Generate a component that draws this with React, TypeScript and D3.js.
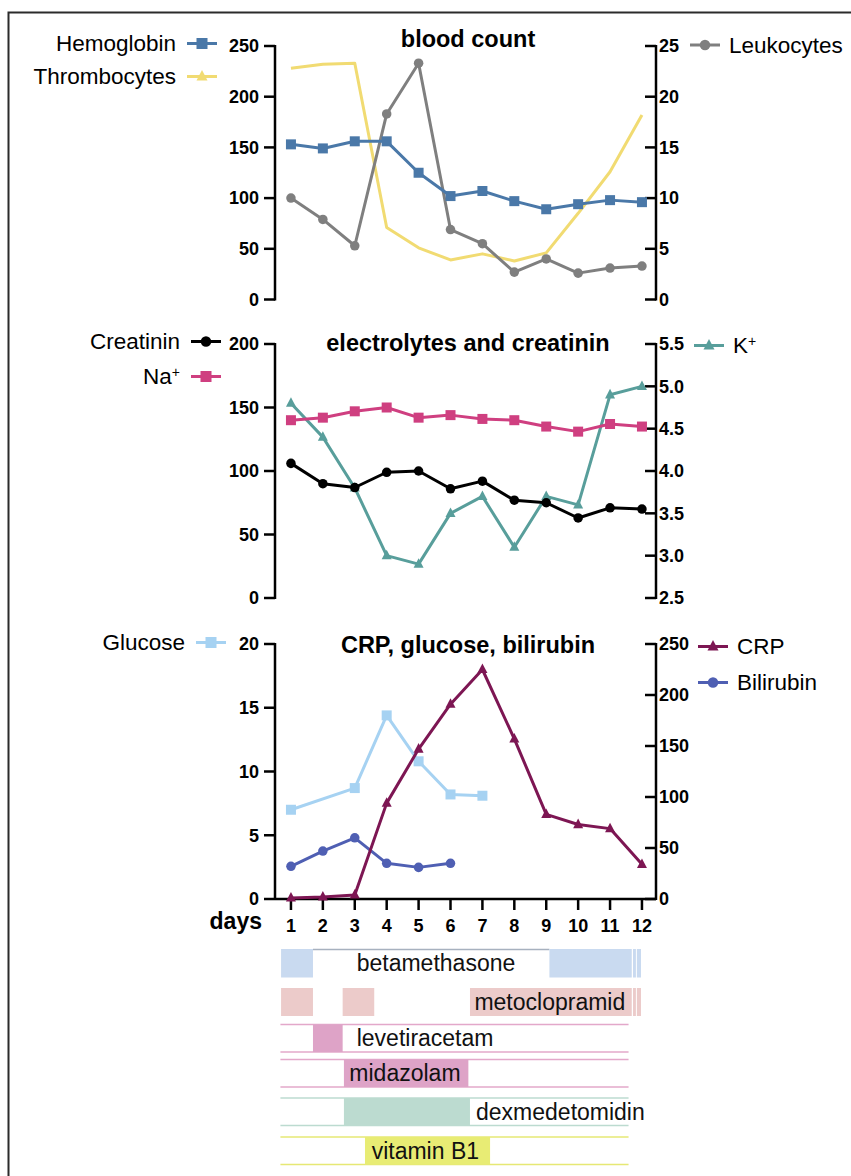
import React from 'react';
import * as d3 from 'd3';

// lab values per day (null = not measured)
const days = [1, 2, 3, 4, 5, 6, 7, 8, 9, 10, 11, 12];
const hemoglobin = [153, 149, 156, 156, 125, 102, 107, 97, 89, 94, 98, 96];
const thrombocytes = [228, 232, 233, 71, 51, 39, 45, 38, 46, 85, 126, 182];
const leukocytes = [10.0, 7.9, 5.3, 18.3, 23.3, 6.9, 5.5, 2.7, 4.0, 2.6, 3.1, 3.3];
const creatinin = [106, 90, 87, 99, 100, 86, 92, 77, 75, 63, 71, 70];
const sodium = [140, 142, 147, 150, 142, 144, 141, 140, 135, 131, 137, 135];
const potassium = [4.8, 4.4, 3.8, 3.0, 2.9, 3.5, 3.7, 3.1, 3.7, 3.6, 4.9, 5.0];
const glucose = [7.0, null, 8.7, 14.4, 10.8, 8.2, 8.1, null, null, null, null, null];
const crp = [1, 2, 4, 94, 147, 191, 225, 157, 83, 73, 69, 34];
const bilirubin = [32, 47, 60, 35, 31, 35, null, null, null, null, null, null];

const titles = ['blood count', 'electrolytes and creatinin', 'CRP, glucose, bilirubin'];

// medication bars, in days
const betaSegments = [[0.69, 1.69], [9.1, 11.68], [11.72, 11.81], [11.84, 11.97]];
const metoSegments = [[0.69, 1.69], [2.62, 3.61], [6.61, 11.68], [11.72, 11.81], [11.84, 11.97]];
const leveSegments = [[1.69, 2.62]];
const midaSegments = [[2.66, 6.56]];
const dexSegments = [[2.66, 6.61]];
const vitSegments = [[3.32, 7.24]];

const FONT = '"Liberation Sans", Arial, Helvetica, sans-serif';

const x = d3.scaleLinear().domain([0.5, 12.44]).range([275, 656]);

function Marker({ shape, cx, cy, color, s = 10 }) {
  if (shape === 'square')
    return <rect x={cx - s / 2} y={cy - s / 2} width={s} height={s} fill={color} />;
  if (shape === 'circle') return <circle cx={cx} cy={cy} r={s / 2.1} fill={color} />;
  if (shape === 'triangle') {
    const h = s * 0.9;
    return (
      <path
        d={`M${cx},${cy - h * 0.66}L${cx + s / 2},${cy + h * 0.4}L${cx - s / 2},${cy + h * 0.4}Z`}
        fill={color}
      />
    );
  }
  return null;
}

function Series({ values, y, color, shape, markers = true }) {
  const pts = days.map((d, i) => [d, values[i]]).filter((p) => p[1] != null);
  const line = d3
    .line()
    .x((p) => x(p[0]))
    .y((p) => y(p[1]));
  return (
    <g>
      <path d={line(pts)} fill="none" stroke={color} strokeWidth={3} strokeLinejoin="round" />
      {markers &&
        pts.map((p, i) => <Marker key={i} shape={shape} cx={x(p[0])} cy={y(p[1])} color={color} />)}
    </g>
  );
}

function LeftAxis({ y, ticks, fmt = (v) => String(v) }) {
  const [b, t] = y.range();
  return (
    <g>
      <line x1={275} x2={275} y1={t - 1} y2={b + 1} stroke="#000" strokeWidth={2.5} />
      {ticks.map((v) => (
        <g key={v}>
          <line x1={264} x2={275} y1={y(v)} y2={y(v)} stroke="#000" strokeWidth={2.5} />
          <text x={259} y={y(v)} dy="0.35em" textAnchor="end" fontSize={18} fontWeight="bold">
            {fmt(v)}
          </text>
        </g>
      ))}
    </g>
  );
}

function RightAxis({ y, ticks, fmt = (v) => String(v) }) {
  const [b, t] = y.range();
  return (
    <g>
      <line x1={656} x2={656} y1={t - 1} y2={b + 1} stroke="#000" strokeWidth={2.5} />
      {ticks.map((v) => (
        <g key={v}>
          <line x1={645} x2={656} y1={y(v)} y2={y(v)} stroke="#000" strokeWidth={2.5} />
          <text x={659} y={y(v)} dy="0.35em" fontSize={18} fontWeight="bold">
            {fmt(v)}
          </text>
        </g>
      ))}
    </g>
  );
}

function Legend({ x1, ly, color, shape, label, side, sup = null }) {
  const x2 = x1 + 30;
  return (
    <g>
      <line x1={x1} x2={x2} y1={ly} y2={ly} stroke={color} strokeWidth={3} />
      <Marker shape={shape} cx={(x1 + x2) / 2} cy={ly} color={color} s={11} />
      <text
        x={side === 'left' ? x1 - 11 : x2 + 9}
        y={ly}
        dy="0.35em"
        textAnchor={side === 'left' ? 'end' : 'start'}
        fontSize={22.5}
      >
        {label}
        {sup && (
          <tspan fontSize={14} dy="-0.55em">
            {sup}
          </tspan>
        )}
      </text>
    </g>
  );
}

function MedRow({ segs, top, h, fill, lineColor = null, label, labelDay }) {
  return (
    <g>
      {lineColor && (
        <g>
          <line x1={x(0.67)} x2={x(11.58)} y1={top} y2={top} stroke={lineColor} strokeWidth={1.5} />
          <line x1={x(0.67)} x2={x(11.58)} y1={top + h} y2={top + h} stroke={lineColor} strokeWidth={1.5} />
        </g>
      )}
      {segs.map((s, i) => (
        <rect key={i} x={x(s[0])} y={top} width={x(s[1]) - x(s[0])} height={h} fill={fill} />
      ))}
      <text x={x(labelDay)} y={top + h / 2} dy="0.35em" fontSize={23} fill="#111">
        {label}
      </text>
    </g>
  );
}

export default function App() {
  const yHb = d3.scaleLinear().domain([0, 250]).range([299.5, 46]);
  const yLeu = d3.scaleLinear().domain([0, 25]).range([299.5, 46]);
  const yCr = d3.scaleLinear().domain([0, 200]).range([598, 344]);
  const yK = d3.scaleLinear().domain([2.5, 5.5]).range([598, 344]);
  const yGlu = d3.scaleLinear().domain([0, 20]).range([899, 644]);
  const yCrp = d3.scaleLinear().domain([0, 250]).range([899, 644]);

  const c = {
    hb: '#4a78a8',
    thr: '#f1db72',
    leu: '#7f7f7f',
    cr: '#000000',
    na: '#cf3f80',
    k: '#589e9b',
    glu: '#a6d2f2',
    crp: '#7d1653',
    bil: '#4f5fb3',
  };

  return (
    <svg
      width={851}
      height={1176}
      style={{ position: 'absolute', left: 0, top: 0, fontFamily: FONT, background: '#fff' }}
    >
      <path d="M8.5,1176V12.5H851" fill="none" stroke="#2b2b2b" strokeWidth={2} />

      {/* titles */}
      <text x={468} y={47} textAnchor="middle" fontSize={23.5} fontWeight="bold">{titles[0]}</text>
      <text x={468} y={351} textAnchor="middle" fontSize={23.5} fontWeight="bold">{titles[1]}</text>
      <text x={468} y={653} textAnchor="middle" fontSize={23.5} fontWeight="bold">{titles[2]}</text>

      {/* blood count */}
      <LeftAxis y={yHb} ticks={yHb.ticks(5)} />
      <RightAxis y={yLeu} ticks={yLeu.ticks(5)} />
      <Series values={thrombocytes} y={yHb} color={c.thr} markers={false} />
      <Series values={leukocytes} y={yLeu} color={c.leu} shape="circle" />
      <Series values={hemoglobin} y={yHb} color={c.hb} shape="square" />
      <Legend x1={187} ly={43.5} color={c.hb} shape="square" label="Hemoglobin" side="left" />
      <Legend x1={187} ly={76.5} color={c.thr} shape="triangle" label="Thrombocytes" side="left" />
      <Legend x1={690} ly={45} color={c.leu} shape="circle" label="Leukocytes" side="right" />

      {/* electrolytes */}
      <LeftAxis y={yCr} ticks={yCr.ticks(4)} />
      <RightAxis y={yK} ticks={yK.ticks(6)} fmt={d3.format('.1f')} />
      <Series values={potassium} y={yK} color={c.k} shape="triangle" />
      <Series values={sodium} y={yCr} color={c.na} shape="square" />
      <Series values={creatinin} y={yCr} color={c.cr} shape="circle" />
      <Legend x1={191} ly={341.5} color={c.cr} shape="circle" label="Creatinin" side="left" />
      <Legend x1={191} ly={376.5} color={c.na} shape="square" label="Na" sup="+" side="left" />
      <Legend x1={694} ly={345.5} color={c.k} shape="triangle" label="K" sup="+" side="right" />

      {/* CRP, glucose, bilirubin */}
      <LeftAxis y={yGlu} ticks={yGlu.ticks(4)} />
      <RightAxis y={yCrp} ticks={yCrp.ticks(5)} />
      <line x1={275} x2={656} y1={899} y2={899} stroke="#000" strokeWidth={2.5} />
      {days.map((d) => (
        <g key={d}>
          <line x1={x(d)} x2={x(d)} y1={899} y2={910} stroke="#000" strokeWidth={2.5} />
          <text x={x(d)} y={932} textAnchor="middle" fontSize={18} fontWeight="bold">{d}</text>
        </g>
      ))}
      <text x={262} y={929} textAnchor="end" fontSize={23} fontWeight="bold">days</text>
      <Series values={glucose} y={yGlu} color={c.glu} shape="square" />
      <Series values={bilirubin} y={yCrp} color={c.bil} shape="circle" />
      <Series values={crp} y={yCrp} color={c.crp} shape="triangle" />
      <Legend x1={196} ly={642.5} color={c.glu} shape="square" label="Glucose" side="left" />
      <Legend x1={698} ly={646.5} color={c.crp} shape="triangle" label="CRP" side="right" />
      <Legend x1={698} ly={682.5} color={c.bil} shape="circle" label="Bilirubin" side="right" />

      {/* medication */}
      <line x1={x(1.69)} x2={x(9.1)} y1={949.5} y2={949.5} stroke="#a7b1bf" strokeWidth={1.5} />
      <MedRow segs={betaSegments} top={949} h={28.5} fill="#c9daf0" label="betamethasone" labelDay={3.06} />
      <MedRow segs={metoSegments} top={988} h={28} fill="#eccbca" label="metoclopramid" labelDay={6.75} />
      <MedRow segs={leveSegments} top={1024.5} h={27.5} fill="#dea3c7" lineColor="#e3a8ca" label="levetiracetam" labelDay={3.06} />
      <MedRow segs={midaSegments} top={1059.5} h={27.5} fill="#dea3c7" lineColor="#e3a8ca" label="midazolam" labelDay={2.83} />
      <MedRow segs={dexSegments} top={1098} h={27.5} fill="#bcdbd0" lineColor="#bcdbd0" label="dexmedetomidin" labelDay={6.8} />
      <MedRow segs={vitSegments} top={1137} h={27.5} fill="#e8ec74" lineColor="#e6e874" label="vitamin B1" labelDay={3.53} />
    </svg>
  );
}
